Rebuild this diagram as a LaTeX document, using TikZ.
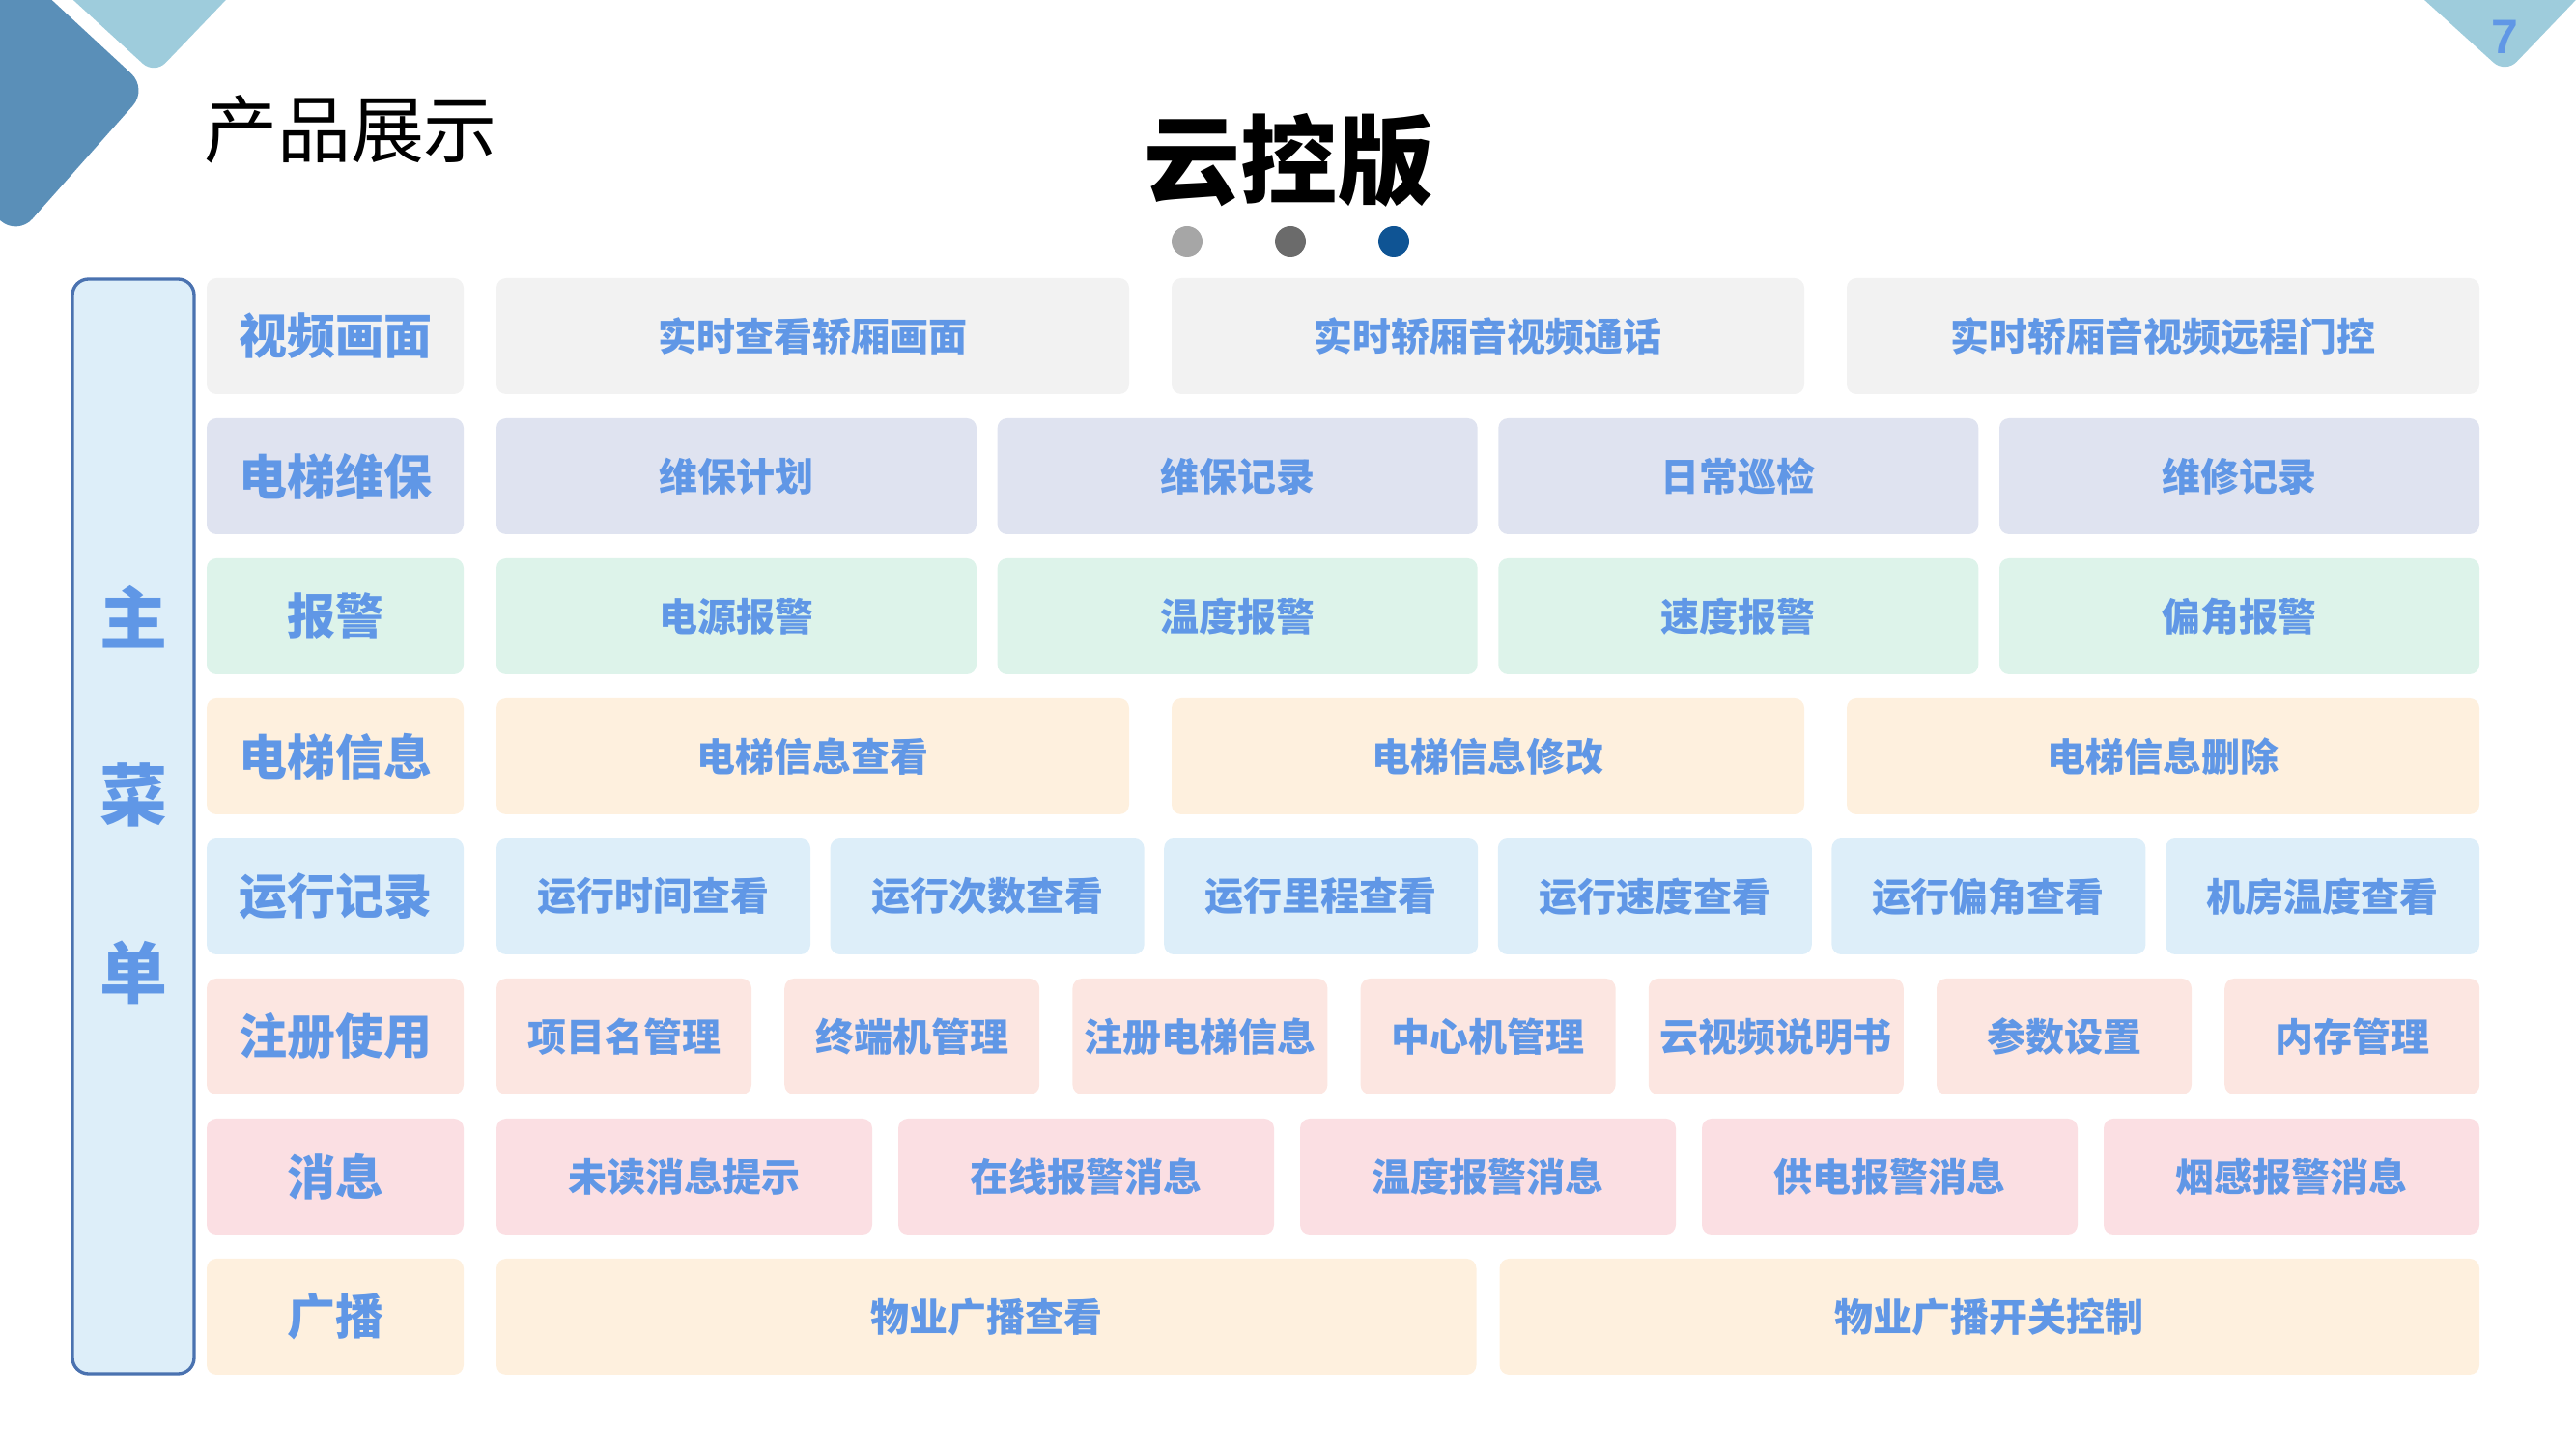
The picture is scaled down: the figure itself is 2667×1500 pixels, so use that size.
\documentclass[tikz,border=0pt]{standalone}
\usepackage{fontspec}
\setmainfont{Noto Sans CJK SC}[BoldFont={Noto Sans CJK SC Black}]
\newfontfamily\numfont{Liberation Sans}
\usepackage{tikz}
\usetikzlibrary{positioning}
\definecolor{txtblue}{HTML}{6097E6}
\definecolor{decodark}{HTML}{5A8FB8}
\definecolor{decolight}{HTML}{9ECCDC}
\definecolor{menuline}{HTML}{4A72B0}
\definecolor{rowgray}{HTML}{F2F2F2}
\definecolor{rowlav}{HTML}{DFE3F0}
\definecolor{rowmint}{HTML}{DDF3EA}
\definecolor{rowpeach}{HTML}{FEF0DE}
\definecolor{rowsky}{HTML}{DDEEF9}
\definecolor{rowsalmon}{HTML}{FCE6E1}
\definecolor{rowpink}{HTML}{FBDFE3}
\definecolor{dotlight}{HTML}{A6A6A6}
\definecolor{dotmid}{HTML}{6B6B6B}
\definecolor{dotdark}{HTML}{0F5494}
\tikzstyle{cat} = [rectangle, rounded corners=3pt, minimum width=79.8pt, minimum height=36pt, inner sep=1pt, outer sep=0pt, text=txtblue, font=\bfseries\fontsize{15pt}{15pt}\selectfont]
\tikzstyle{item} = [rectangle, rounded corners=3pt, minimum height=36pt, inner sep=1pt, outer sep=0pt, text=txtblue, font=\bfseries\fontsize{12pt}{12pt}\selectfont]
\tikzstyle{wtwo} = [minimum width=304.35pt]
\tikzstyle{wthree} = [minimum width=196.5pt]
\tikzstyle{wfour} = [minimum width=149.1pt]
\tikzstyle{wfive} = [minimum width=116.7pt]
\tikzstyle{wsix} = [minimum width=97.5pt]
\tikzstyle{wseven} = [minimum width=79.2pt]
\tikzstyle{dot} = [circle, minimum size=9.6pt, inner sep=0pt, outer sep=0pt]

\begin{document}
\begin{tikzpicture}[x=0.3pt, y=-0.3pt]
    \useasboundingbox (0,0) rectangle (2667,1500);
    % corner shapes
    \begin{scope}
      \clip (0,0) rectangle (2667,1500);
      \fill [decodark, rounded corners=7pt] (-20,-20) -- (32,-20) -- (153,92) -- (18,244) -- (-20,210) -- cycle;
      \fill [decolight, rounded corners=5pt] (54,-20) -- (160,77) -- (253,-20) -- cycle;
      \fill [decolight, rounded corners=5pt] (2488,-20) -- (2594,76) -- (2686,-20) -- cycle;
    \end{scope}
    \node [text=txtblue, font=\numfont\bfseries\fontsize{15pt}{15pt}\selectfont] (page) at (2593,38) {7};

    \node [font=\fontsize{22.8pt}{22.8pt}\selectfont] (head) at (363,134) {产品展示};
    \node [font=\bfseries\fontsize{30pt}{30pt}\selectfont] (title) at (1334,166) {云控版};
    \node [dot, fill=dotlight] (d1) at (1229,250) {};
    \node [dot, fill=dotmid, right=22.5pt of d1] (d2) {};
    \node [dot, fill=dotdark, right=22.5pt of d2] (d3) {};

    % main menu
    \node [draw=menuline, line width=1pt, fill=rowsky, rounded corners=5pt, minimum width=37.8pt, minimum height=339.9pt] (menu) at (138,855.5) {};
    \node [text=txtblue, align=center, font=\bfseries\fontsize{21pt}{55pt}\selectfont] (menutxt) at (138,823) {主\\菜\\单};

    % rows
    \node [cat, fill=rowgray] (vid) at (347,348) {视频画面};
    \node [item, wthree, fill=rowgray, right=10.2pt of vid] (vid1) {实时查看轿厢画面};
    \node [item, wthree, fill=rowgray, right=13.2pt of vid1] (vid2) {实时轿厢音视频通话};
    \node [item, wthree, fill=rowgray, right=13.2pt of vid2] (vid3) {实时轿厢音视频远程门控};

    \node [cat, fill=rowlav, below=7.5pt of vid] (mnt) {电梯维保};
    \node [item, wfour, fill=rowlav, right=10.2pt of mnt] (mnt1) {维保计划};
    \node [item, wfour, fill=rowlav, right=6.5pt of mnt1] (mnt2) {维保记录};
    \node [item, wfour, fill=rowlav, right=6.5pt of mnt2] (mnt3) {日常巡检};
    \node [item, wfour, fill=rowlav, right=6.5pt of mnt3] (mnt4) {维修记录};

    \node [cat, fill=rowmint, below=7.5pt of mnt] (alm) {报警};
    \node [item, wfour, fill=rowmint, right=10.2pt of alm] (alm1) {电源报警};
    \node [item, wfour, fill=rowmint, right=6.5pt of alm1] (alm2) {温度报警};
    \node [item, wfour, fill=rowmint, right=6.5pt of alm2] (alm3) {速度报警};
    \node [item, wfour, fill=rowmint, right=6.5pt of alm3] (alm4) {偏角报警};

    \node [cat, fill=rowpeach, below=7.5pt of alm] (info) {电梯信息};
    \node [item, wthree, fill=rowpeach, right=10.2pt of info] (info1) {电梯信息查看};
    \node [item, wthree, fill=rowpeach, right=13.2pt of info1] (info2) {电梯信息修改};
    \node [item, wthree, fill=rowpeach, right=13.2pt of info2] (info3) {电梯信息删除};

    \node [cat, fill=rowsky, below=7.5pt of info] (run) {运行记录};
    \node [item, wsix, fill=rowsky, right=10.2pt of run] (run1) {运行时间查看};
    \node [item, wsix, fill=rowsky, right=6.18pt of run1] (run2) {运行次数查看};
    \node [item, wsix, fill=rowsky, right=6.18pt of run2] (run3) {运行里程查看};
    \node [item, wsix, fill=rowsky, right=6.18pt of run3] (run4) {运行速度查看};
    \node [item, wsix, fill=rowsky, right=6.18pt of run4] (run5) {运行偏角查看};
    \node [item, wsix, fill=rowsky, right=6.18pt of run5] (run6) {机房温度查看};

    \node [cat, fill=rowsalmon, below=7.5pt of run] (reg) {注册使用};
    \node [item, wseven, fill=rowsalmon, right=10.2pt of reg] (reg1) {项目名管理};
    \node [item, wseven, fill=rowsalmon, right=10.26pt of reg1] (reg2) {终端机管理};
    \node [item, wseven, fill=rowsalmon, right=10.26pt of reg2] (reg3) {注册电梯信息};
    \node [item, wseven, fill=rowsalmon, right=10.26pt of reg3] (reg4) {中心机管理};
    \node [item, wseven, fill=rowsalmon, right=10.26pt of reg4] (reg5) {云视频说明书};
    \node [item, wseven, fill=rowsalmon, right=10.26pt of reg5] (reg6) {参数设置};
    \node [item, wseven, fill=rowsalmon, right=10.26pt of reg6] (reg7) {内存管理};

    \node [cat, fill=rowpink, below=7.5pt of reg] (msg) {消息};
    \node [item, wfive, fill=rowpink, right=10.2pt of msg] (msg1) {未读消息提示};
    \node [item, wfive, fill=rowpink, right=8.1pt of msg1] (msg2) {在线报警消息};
    \node [item, wfive, fill=rowpink, right=8.1pt of msg2] (msg3) {温度报警消息};
    \node [item, wfive, fill=rowpink, right=8.1pt of msg3] (msg4) {供电报警消息};
    \node [item, wfive, fill=rowpink, right=8.1pt of msg4] (msg5) {烟感报警消息};

    \node [cat, fill=rowpeach, below=7.5pt of msg] (bcast) {广播};
    \node [item, wtwo, fill=rowpeach, right=10.2pt of bcast] (bcast1) {物业广播查看};
    \node [item, wtwo, fill=rowpeach, right=7.2pt of bcast1] (bcast2) {物业广播开关控制};
\end{tikzpicture}
\end{document}
